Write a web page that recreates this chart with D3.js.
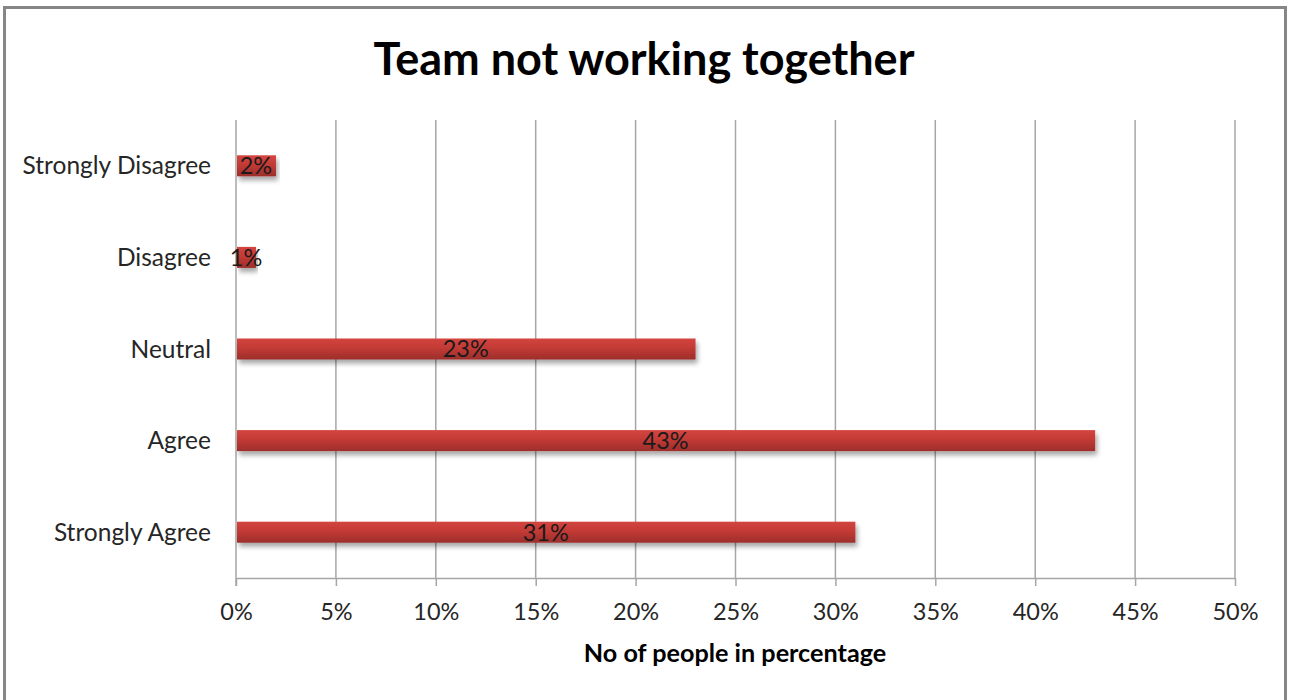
<!DOCTYPE html>
<html>
<head>
<meta charset="utf-8">
<script src="https://cdn.jsdelivr.net/npm/d3@7"></script>
<style>
  html, body { margin: 0; padding: 0; background: #fff; }
  svg { display: block; font-family: Lato, "Open Sans", sans-serif; }
</style>
</head>
<body>
<svg id="chart" width="1294" height="700"></svg>
<script>
// Survey responses: share of people per answer
const categories = ["Strongly Disagree", "Disagree", "Neutral", "Agree", "Strongly Agree"];
const values = [2, 1, 23, 43, 31];
const tickValues = [0, 5, 10, 15, 20, 25, 30, 35, 40, 45, 50];
const chartTitle = "Team not working together";
const xTitle = "No of people in percentage";

const svg = d3.select("#chart");
const m = { left: 236, right: 1235, top: 120, bottom: 578 };

// Outer frame
svg.append("rect")
  .attr("x", 4.5).attr("y", 7.5)
  .attr("width", 1281).attr("height", 700)
  .attr("fill", "#fff").attr("stroke", "#868686").attr("stroke-width", 3);

const defs = svg.append("defs");
const grad = defs.append("linearGradient")
  .attr("id", "barFill").attr("x1", 0).attr("y1", 0).attr("x2", 0).attr("y2", 1);
grad.append("stop").attr("offset", "0%").attr("stop-color", "#d3453f");
grad.append("stop").attr("offset", "45%").attr("stop-color", "#c33a35");
grad.append("stop").attr("offset", "100%").attr("stop-color", "#9c2e2b");

const shadow = defs.append("filter").attr("id", "barShadow")
  .attr("x", "-5%").attr("y", "-50%").attr("width", "115%").attr("height", "250%");
shadow.append("feGaussianBlur").attr("in", "SourceAlpha").attr("stdDeviation", 2.5).attr("result", "b");
shadow.append("feOffset").attr("in", "b").attr("dx", 2).attr("dy", 4).attr("result", "o");
shadow.append("feComponentTransfer").attr("in", "o").attr("result", "s")
  .append("feFuncA").attr("type", "linear").attr("slope", 0.35);
const merge = shadow.append("feMerge");
merge.append("feMergeNode").attr("in", "s");
merge.append("feMergeNode").attr("in", "SourceGraphic");

const x = d3.scaleLinear().domain([0, 50]).range([m.left, m.right]);
const y = d3.scaleBand().domain(categories).range([m.top, m.bottom]);

// Vertical gridlines
svg.append("g").selectAll("line")
  .data(tickValues.slice(1))
  .join("line")
  .attr("x1", d => x(d)).attr("x2", d => x(d))
  .attr("y1", m.top).attr("y2", m.bottom)
  .attr("stroke", "#a6a6a6").attr("stroke-width", 1.5);

// Bottom axis with outward ticks
const xAxis = svg.append("g")
  .attr("transform", `translate(0,${m.bottom})`)
  .call(d3.axisBottom(x).tickValues(tickValues).tickFormat(d => d + "%").tickSize(8).tickSizeOuter(0).tickPadding(17));
xAxis.select(".domain").attr("stroke", "#a6a6a6").attr("stroke-width", 1.5);
xAxis.selectAll(".tick line").attr("stroke", "#a6a6a6").attr("stroke-width", 1.5);
xAxis.selectAll(".tick text")
  .attr("fill", "#262626").attr("font-size", 23.5).attr("font-family", "Lato, sans-serif");

// Left axis line
svg.append("line")
  .attr("x1", m.left).attr("x2", m.left)
  .attr("y1", m.top).attr("y2", m.bottom + 8)
  .attr("stroke", "#a6a6a6").attr("stroke-width", 1.5);

// Category labels
svg.append("g").selectAll("text")
  .data(categories)
  .join("text")
  .attr("x", 211)
  .attr("y", d => y(d) + y.bandwidth() / 2)
  .attr("dy", "0.35em")
  .attr("text-anchor", "end")
  .attr("font-size", 24.5)
  .attr("fill", "#262626")
  .text(d => d);

const barH = 21;
const rows = categories.map((c, i) => ({ c, v: values[i] }));

// Bars
svg.append("g").selectAll("rect")
  .data(rows)
  .join("rect")
  .attr("x", x(0) + 1)
  .attr("y", d => y(d.c) + y.bandwidth() / 2 - barH / 2)
  .attr("width", d => x(d.v) - x(0) - 1)
  .attr("height", barH)
  .attr("fill", "url(#barFill)")
  .attr("filter", "url(#barShadow)");

// Value labels centred on bars
svg.append("g").selectAll("text")
  .data(rows)
  .join("text")
  .attr("x", d => (x(0) + x(d.v)) / 2)
  .attr("y", d => y(d.c) + y.bandwidth() / 2)
  .attr("dy", "0.36em")
  .attr("text-anchor", "middle")
  .attr("font-size", 23.5)
  .attr("fill", "#1a1a1a")
  .text(d => d.v + "%");

// Titles
svg.append("text")
  .attr("x", 644).attr("y", 75)
  .attr("text-anchor", "middle")
  .attr("font-size", 45).attr("font-weight", "bold")
  .attr("fill", "#000")
  .text(chartTitle);

svg.append("text")
  .attr("x", 735).attr("y", 662)
  .attr("text-anchor", "middle")
  .attr("font-size", 25.2).attr("font-weight", "bold")
  .attr("fill", "#000")
  .text(xTitle);
</script>
</body>
</html>
